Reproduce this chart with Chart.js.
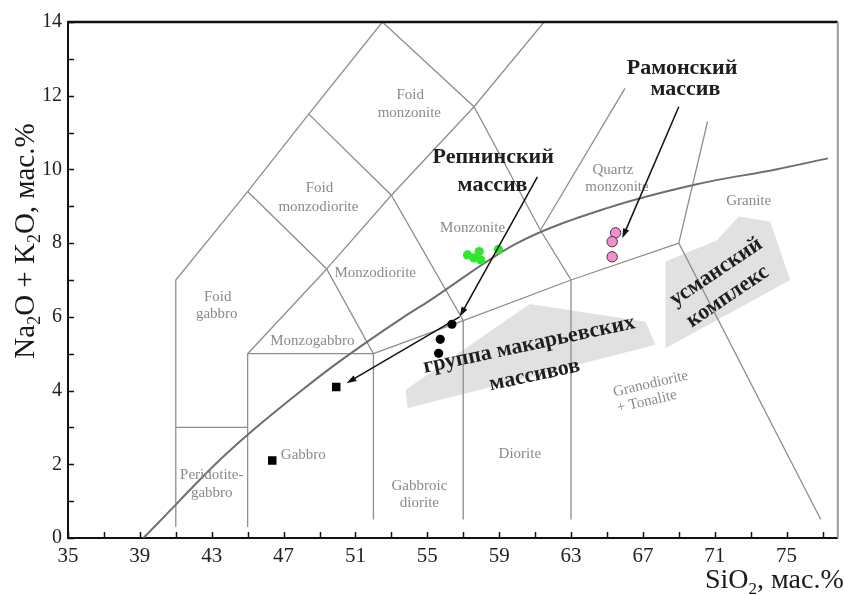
<!DOCTYPE html>
<html>
<head>
<meta charset="utf-8">
<script src="https://cdn.jsdelivr.net/npm/chart.js@4.4.1/dist/chart.umd.min.js"></script>
<style>
  html, body { margin: 0; padding: 0; background: #ffffff; }
  #wrap { width: 844px; height: 595px; position: relative; }
</style>
</head>
<body>
<div id="wrap"><canvas id="tas" width="844" height="595"></canvas></div>
<script>
// ---- Axis ticks ----
const xTickLabels = [35, 39, 43, 47, 51, 55, 59, 63, 67, 71, 75];
const xMinorTicks = [35, 37, 39, 41, 43, 45, 47, 49, 51, 53, 55, 57, 59, 61, 63, 65, 67, 69, 71, 73, 75, 77];
const yTickLabels = [0, 2, 4, 6, 8, 10, 12, 14];
const yMinorTicks = [0, 1, 2, 3, 4, 5, 6, 7, 8, 9, 10, 11, 12, 13, 14];

// ---- Field boundaries of the plutonic TAS diagram (SiO2, Na2O+K2O) ----
const boundaryFoidGabbro   = [[41, 0.3], [41, 7], [45, 9.4], [48.4, 11.5], [52.5, 14]];
const boundaryPeridotite   = [[41, 3], [45, 3]];
const boundaryGabbro       = [[45, 0.3], [45, 5], [52, 5]];
const boundaryMonzogabbro  = [[45, 5], [49.4, 7.3]];
const boundaryMonzoLeft    = [[45, 9.4], [49.4, 7.3], [52, 5], [52, 0.5]];
const boundarySubalkaline  = [[52, 5], [57, 5.9], [63, 7], [69, 8]];
const boundaryMonzodiorite = [[48.4, 11.5], [53, 9.3], [57, 5.9], [57, 0.5]];
const boundaryFoidMonzo    = [[49.4, 7.3], [53, 9.3], [57.6, 11.7], [61.5, 14]];
const boundaryMonzonite    = [[52.5, 14], [57.6, 11.7], [61.3, 8.35], [63, 7], [63, 0.5]];
const boundaryQzMonzonite  = [[61.3, 8.35], [66, 12.2]];
const boundaryGranite      = [[70.6, 11.3], [69, 8], [76.9, 0.5]];

// Alkaline / subalkaline divide
const alkalineCurve = [[39.2, 0], [40, 0.4], [43.2, 2], [45, 2.8], [48, 4], [50, 4.75], [53.7, 6],
                       [55, 6.4], [60, 8], [65, 8.95], [70, 9.6], [74.4, 10], [77.3, 10.3]];

// Composition fields of the massif groups
const makarShape = [[53.8, 4.02], [60.7, 6.35], [67.15, 5.87], [67.7, 5.24], [53.9, 3.52]];
const usmanShape = [[68.26, 5.15], [68.26, 7.5], [71.13, 8.08], [72.33, 8.72], [74.09, 8.58], [75.2, 7.0]];

// ---- Samples ----
const greenSiO2 = [57.24, 57.6, 57.89, 57.98, 58.96];
const greenAlk  = [7.68, 7.6, 7.77, 7.54, 7.83];
const pinkSiO2  = [65.48, 65.29, 65.29];
const pinkAlk   = [8.28, 8.04, 7.63];
const blackDotSiO2 = [56.37, 55.72, 55.63];
const blackDotAlk  = [5.8, 5.39, 5.01];
const blackSqSiO2  = [49.93, 46.37];
const blackSqAlk   = [4.1, 2.1];

// Trend arrows: [start, end]
const arrows = [
  [[61.13, 9.8], [56.8, 6.0]],
  [[56.8, 6.0], [50.5, 4.2]],
  [[69.0, 11.7], [65.85, 8.13]]
];

// Field names: [text, SiO2, Na2O+K2O, rotation(deg)]
const fieldNames = [
  ['Foid', 54.05, 12.02, 0], ['monzonite', 54.0, 11.53, 0],
  ['Foid', 49.0, 9.5, 0], ['monzodiorite', 48.94, 8.99, 0],
  ['Monzodiorite', 52.1, 7.19, 0],
  ['Foid', 43.33, 6.54, 0], ['gabbro', 43.28, 6.08, 0],
  ['Monzogabbro', 48.6, 5.35, 0],
  ['Peridotite-', 43.0, 1.71, 0], ['gabbro', 43.0, 1.23, 0],
  ['Gabbro', 48.1, 2.25, 0],
  ['Gabbroic', 54.56, 1.41, 0], ['diorite', 54.56, 0.95, 0],
  ['Diorite', 60.15, 2.28, 0],
  ['Granodiorite', 67.43, 4.18, -13], ['+ Tonalite', 67.22, 3.70, -13],
  ['Monzonite', 57.52, 8.4, 0],
  ['Quartz', 65.33, 9.98, 0], ['monzonite', 65.56, 9.52, 0],
  ['Granite', 72.89, 9.13, 0]
];

// Massif names: [text, SiO2, Na2O+K2O, rotation(deg)]
const massifNames = [
  ['Репнинский', 58.67, 10.33, 0], ['массив', 58.63, 9.58, 0],
  ['Рамонский', 69.18, 12.74, 0], ['массив', 69.37, 12.17, 0],
  ['группа макарьевских', 60.67, 5.24, -12], ['массивов', 60.98, 4.42, -12],
  ['усманский', 71.08, 7.22, -34], ['комплекс', 71.72, 6.55, -34]
];

const SERIF = '"Liberation Serif", "DejaVu Serif", serif';
const pairs = arr => arr.map(([x, y]) => ({ x, y }));
const zip = (xs, ys) => xs.map((x, i) => ({ x, y: ys[i] }));

const lineSets = [boundaryFoidGabbro, boundaryPeridotite, boundaryGabbro, boundaryMonzogabbro,
  boundaryMonzoLeft, boundarySubalkaline, boundaryMonzodiorite, boundaryFoidMonzo,
  boundaryMonzonite, boundaryQzMonzonite, boundaryGranite];

const datasets = [
  { label: 'Pink', data: zip(pinkSiO2, pinkAlk), pointStyle: 'circle', pointRadius: 5.2,
    backgroundColor: '#f290cf', borderColor: '#3a3a3a', borderWidth: 1, order: 0 },
  { label: 'Green', data: zip(greenSiO2, greenAlk), pointStyle: 'circle', pointRadius: 4.6,
    backgroundColor: '#2ee82e', borderColor: '#2ee82e', borderWidth: 0, order: 0 },
  { label: 'BlackDots', data: zip(blackDotSiO2, blackDotAlk), pointStyle: 'circle', pointRadius: 4.6,
    backgroundColor: '#000', borderColor: '#000', borderWidth: 0, order: 0 },
  { label: 'BlackSquares', data: zip(blackSqSiO2, blackSqAlk), pointStyle: 'rect', pointRadius: 6,
    backgroundColor: '#000', borderColor: '#000', borderWidth: 0, order: 0 },
  { label: 'Alkaline', data: pairs(alkalineCurve), showLine: true, pointRadius: 0,
    borderColor: '#6e6e6e', borderWidth: 2, cubicInterpolationMode: 'monotone', order: 5 }
];
lineSets.forEach((l, i) => datasets.push({
  label: 'field' + i, data: pairs(l), showLine: true, pointRadius: 0,
  borderColor: '#8e8e8e', borderWidth: 1.3, order: 10
}));

function drawArrow(ctx, x1, y1, x2, y2) {
  const a = Math.atan2(y2 - y1, x2 - x1);
  const len = 10, half = 3.2;
  ctx.save();
  ctx.strokeStyle = '#111';
  ctx.fillStyle = '#111';
  ctx.lineWidth = 1.5;
  ctx.beginPath();
  ctx.moveTo(x1, y1);
  ctx.lineTo(x2 - Math.cos(a) * len * 0.6, y2 - Math.sin(a) * len * 0.6);
  ctx.stroke();
  ctx.beginPath();
  ctx.moveTo(x2, y2);
  ctx.lineTo(x2 - Math.cos(a) * len - Math.sin(a) * half, y2 - Math.sin(a) * len + Math.cos(a) * half);
  ctx.lineTo(x2 - Math.cos(a) * len + Math.sin(a) * half, y2 - Math.sin(a) * len - Math.cos(a) * half);
  ctx.closePath();
  ctx.fill();
  ctx.restore();
}

// Text with subscript pieces: [[text, isSub], ...]
function measureRich(ctx, parts, size) {
  const subSize = Math.round(size * 0.62);
  let total = 0;
  parts.forEach(([t, sub]) => {
    ctx.font = (sub ? subSize : size) + 'px ' + SERIF;
    total += ctx.measureText(t).width;
  });
  return total;
}
function fillRich(ctx, parts, size, x, y) {
  const subSize = Math.round(size * 0.62);
  let cx = x;
  parts.forEach(([t, sub]) => {
    ctx.font = (sub ? subSize : size) + 'px ' + SERIF;
    ctx.fillText(t, cx, sub ? y + size * 0.22 : y);
    cx += ctx.measureText(t).width;
  });
}

const tasDecor = {
  id: 'tasDecor',
  beforeDatasetsDraw(chart) {
    const { ctx, scales: { x, y } } = chart;
    ctx.save();
    ctx.fillStyle = '#e1e1e1';
    [makarShape, usmanShape].forEach(shape => {
      ctx.beginPath();
      shape.forEach(([sx, sy], i) => {
        const px = x.getPixelForValue(sx), py = y.getPixelForValue(sy);
        if (i === 0) ctx.moveTo(px, py); else ctx.lineTo(px, py);
      });
      ctx.closePath();
      ctx.fill();
    });
    ctx.restore();
  },
  afterDatasetsDraw(chart) {
    const { ctx, chartArea: ca, scales: { x, y } } = chart;
    ctx.save();
    // field names
    ctx.fillStyle = '#8a8a8a';
    ctx.font = '15px ' + SERIF;
    ctx.textAlign = 'center';
    ctx.textBaseline = 'middle';
    fieldNames.forEach(([t, sx, sy, rot]) => {
      ctx.save();
      ctx.translate(x.getPixelForValue(sx), y.getPixelForValue(sy));
      ctx.rotate(rot * Math.PI / 180);
      ctx.fillText(t, 0, 0);
      ctx.restore();
    });
    // massif names
    ctx.fillStyle = '#1e1e1e';
    ctx.font = 'bold 22px ' + SERIF;
    massifNames.forEach(([t, sx, sy, rot]) => {
      ctx.save();
      ctx.translate(x.getPixelForValue(sx), y.getPixelForValue(sy));
      ctx.rotate(rot * Math.PI / 180);
      ctx.fillText(t, 0, 0);
      ctx.restore();
    });
    // arrows
    arrows.forEach(([[ax, ay], [bx, by]]) => {
      drawArrow(ctx, x.getPixelForValue(ax), y.getPixelForValue(ay),
                     x.getPixelForValue(bx), y.getPixelForValue(by));
    });
    // frame: top and right
    ctx.strokeStyle = '#111';
    ctx.lineWidth = 2.5;
    ctx.beginPath();
    ctx.moveTo(ca.left, ca.top);
    ctx.lineTo(ca.right, ca.top);
    ctx.stroke();
    ctx.strokeStyle = '#9a9a9a';
    ctx.lineWidth = 2;
    ctx.beginPath();
    ctx.moveTo(ca.right, ca.top);
    ctx.lineTo(ca.right, ca.bottom);
    ctx.stroke();
    // inward tick marks
    ctx.strokeStyle = '#111';
    ctx.lineWidth = 1.5;
    ctx.beginPath();
    xMinorTicks.forEach(v => {
      const px = Math.round(x.getPixelForValue(v)) + 0.5;
      ctx.moveTo(px, ca.bottom);
      ctx.lineTo(px, ca.bottom - 6);
    });
    yMinorTicks.forEach(v => {
      const py = Math.round(y.getPixelForValue(v)) + 0.5;
      ctx.moveTo(ca.left, py);
      ctx.lineTo(ca.left + 6, py);
    });
    ctx.stroke();
    // axis titles
    ctx.fillStyle = '#1a1a1a';
    ctx.textAlign = 'left';
    ctx.textBaseline = 'alphabetic';
    const xTitle = [['SiO', false], ['2', true], [', мас.%', false]];
    fillRich(ctx, xTitle, 28, 705, 588);
    const yTitle = [['Na', false], ['2', true], ['O + K', false], ['2', true], ['O, мас.%', false]];
    const w = measureRich(ctx, yTitle, 29);
    ctx.save();
    ctx.translate(34, 241 + w / 2);
    ctx.rotate(-Math.PI / 2);
    fillRich(ctx, yTitle, 29, 0, 0);
    ctx.restore();
    ctx.restore();
  }
};

new Chart(document.getElementById('tas'), {
  type: 'scatter',
  data: { datasets },
  options: {
    responsive: false,
    animation: false,
    layout: { padding: { top: 22, right: 5, left: 0, bottom: 0 } },
    plugins: { legend: { display: false }, tooltip: { enabled: false } },
    scales: {
      x: {
        type: 'linear', min: 35, max: 77.85,
        grid: { display: false, drawTicks: false },
        border: { display: true, color: '#111', width: 2 },
        ticks: { font: { family: SERIF, size: 21 }, color: '#222', padding: 6, maxRotation: 0, autoSkip: false },
        afterBuildTicks: s => { s.ticks = xTickLabels.map(v => ({ value: v })); },
        afterFit: s => { s.height = 57; }
      },
      y: {
        type: 'linear', min: 0, max: 14,
        grid: { display: false, drawTicks: false },
        border: { display: true, color: '#111', width: 2 },
        ticks: { font: { family: SERIF, size: 20 }, color: '#222', padding: 6 },
        afterBuildTicks: s => { s.ticks = yTickLabels.map(v => ({ value: v })); },
        afterFit: s => { s.width = 68; }
      }
    }
  },
  plugins: [tasDecor]
});
</script>
</body>
</html>
